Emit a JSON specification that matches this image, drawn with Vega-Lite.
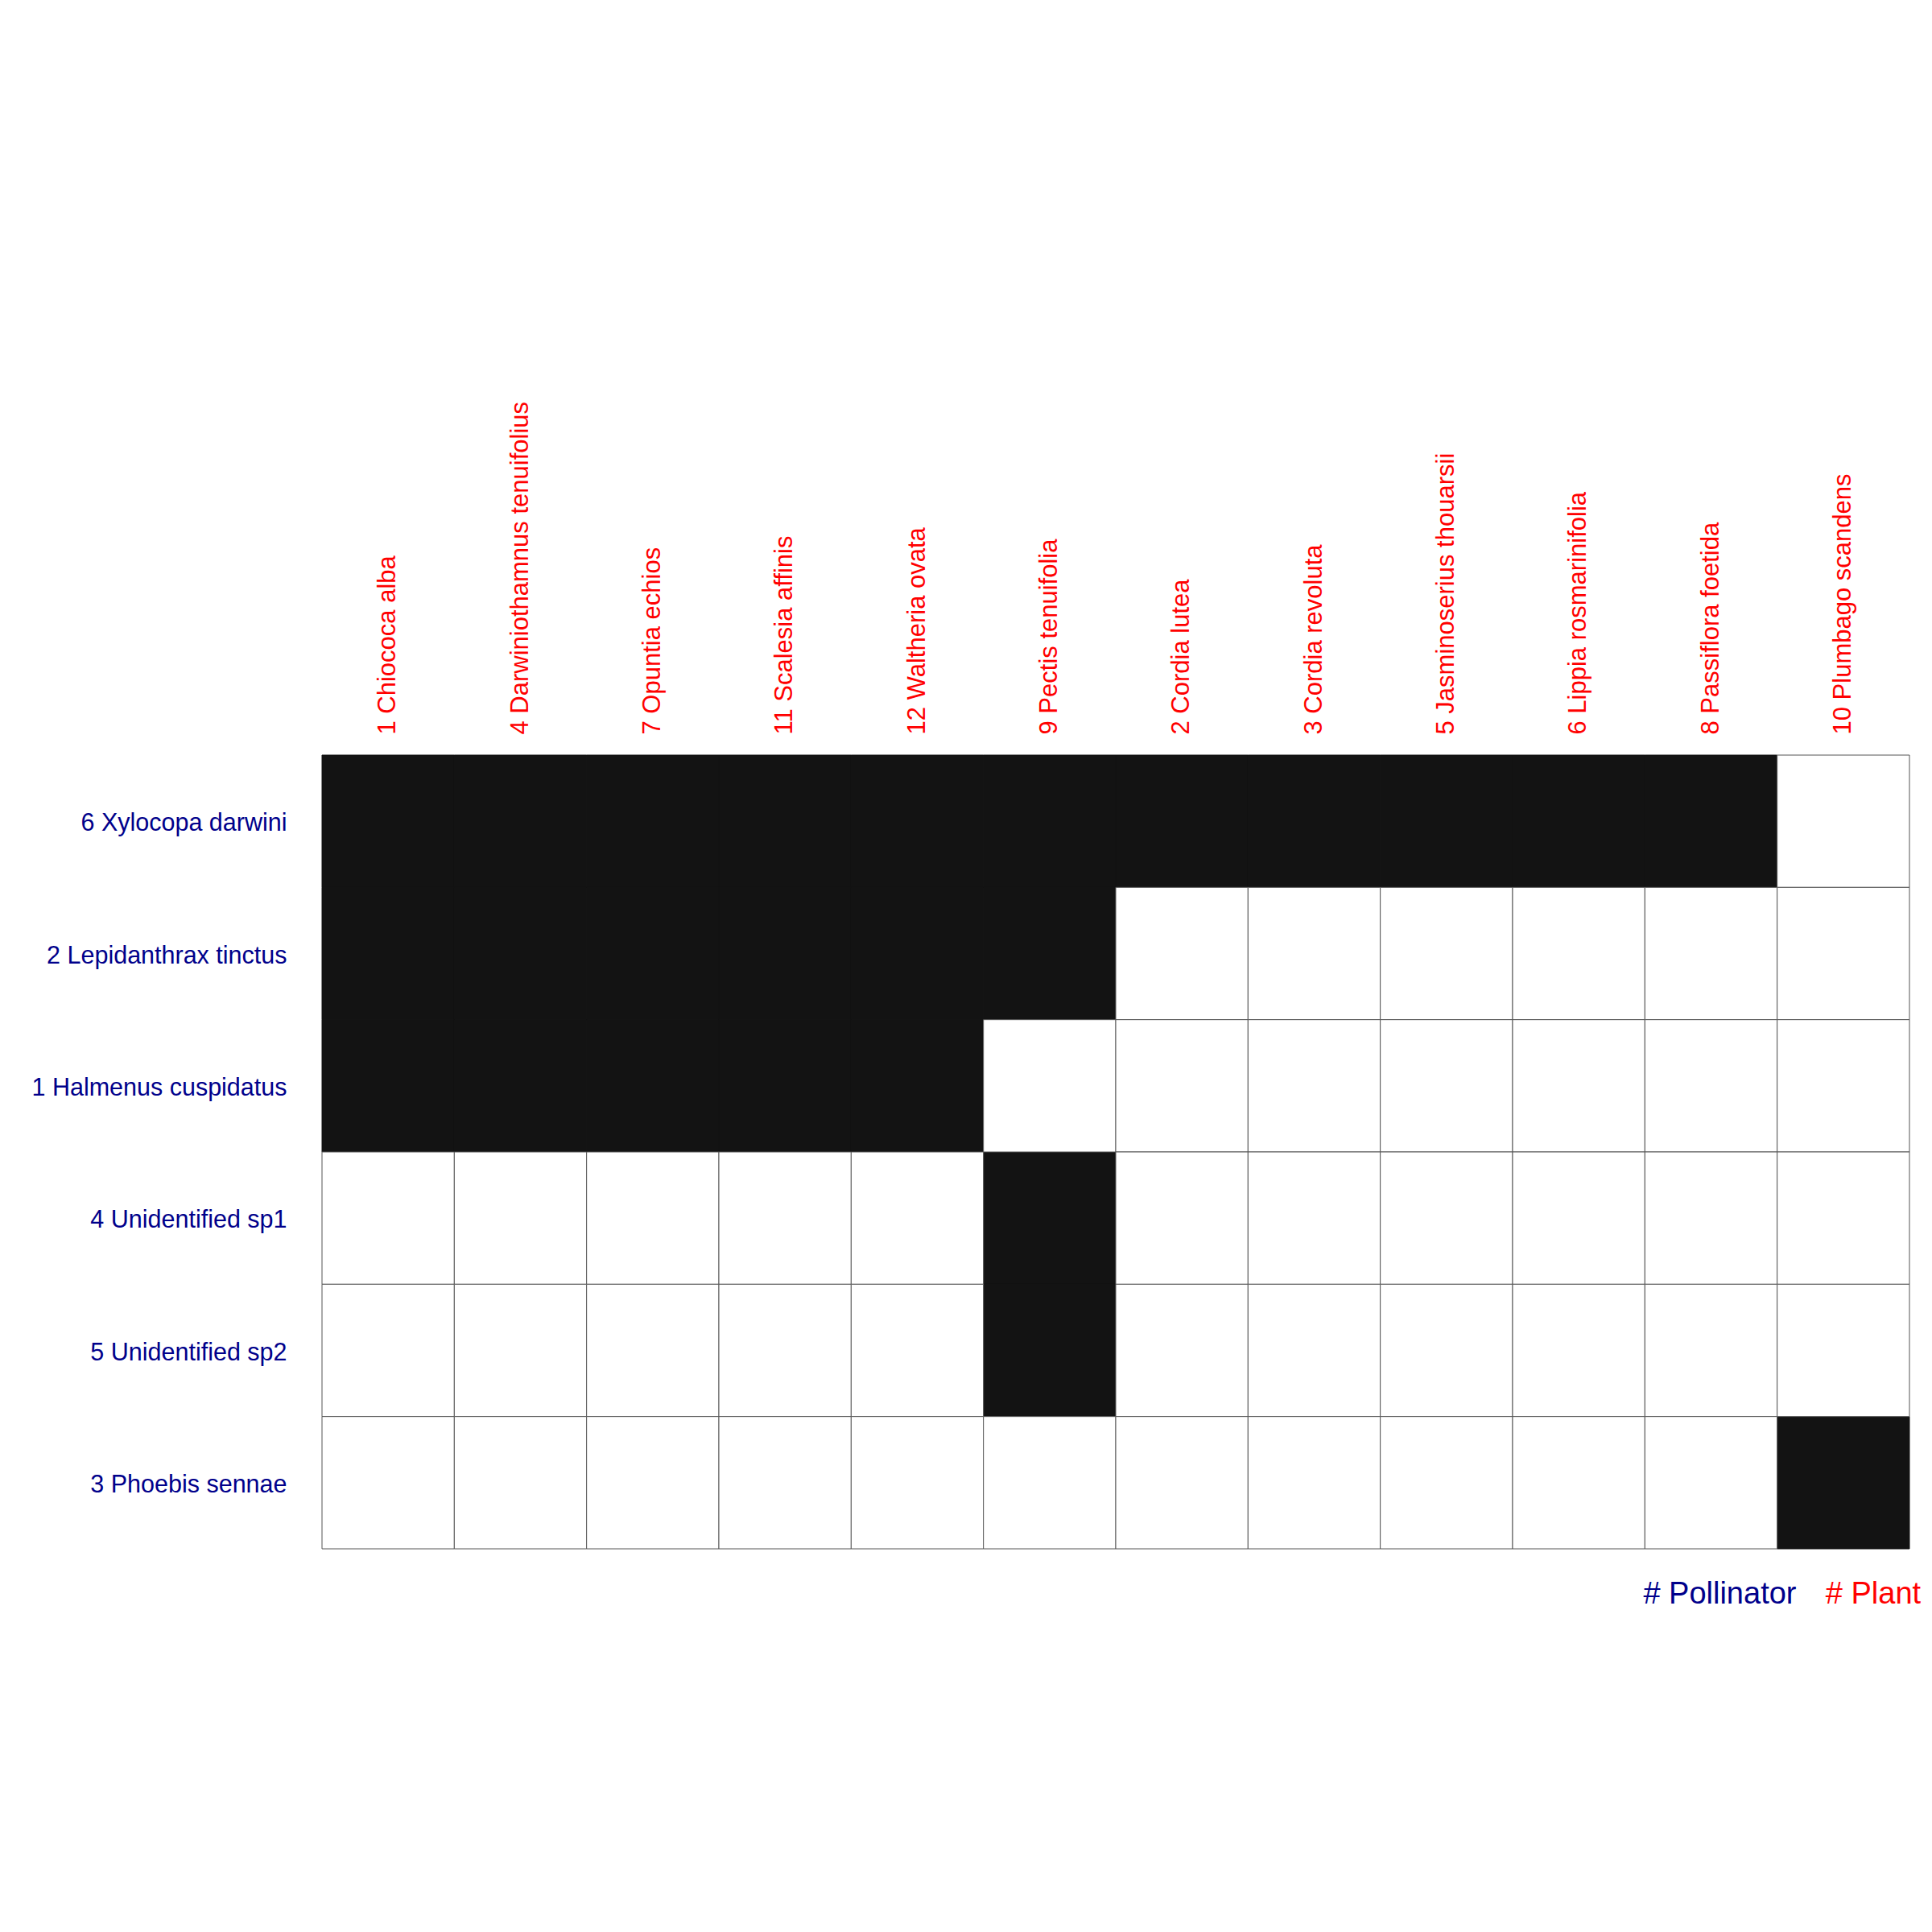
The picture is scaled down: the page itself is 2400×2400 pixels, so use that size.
{
  "$schema": "https://vega.github.io/schema/vega-lite/v6.json",
  "autosize": {"type": "none"},
  "padding": {"left": 400, "top": 938, "right": 28, "bottom": 476},
  "width": 1972,
  "height": 986,
  "background": "white",
  "config": {"view": {"stroke": null}, "font": "Liberation Sans"},
  "datasets": {
    "web": [
      {"pollinator": "6 Xylocopa darwini", "plant": "1 Chiococa alba", "v": 1},
      {"pollinator": "6 Xylocopa darwini", "plant": "4 Darwiniothamnus tenuifolius", "v": 1},
      {"pollinator": "6 Xylocopa darwini", "plant": "7 Opuntia echios", "v": 1},
      {"pollinator": "6 Xylocopa darwini", "plant": "11 Scalesia affinis", "v": 1},
      {"pollinator": "6 Xylocopa darwini", "plant": "12 Waltheria ovata", "v": 1},
      {"pollinator": "6 Xylocopa darwini", "plant": "9 Pectis tenuifolia", "v": 1},
      {"pollinator": "6 Xylocopa darwini", "plant": "2 Cordia lutea", "v": 1},
      {"pollinator": "6 Xylocopa darwini", "plant": "3 Cordia revoluta", "v": 1},
      {"pollinator": "6 Xylocopa darwini", "plant": "5 Jasminoserius thouarsii", "v": 1},
      {"pollinator": "6 Xylocopa darwini", "plant": "6 Lippia rosmarinifolia", "v": 1},
      {"pollinator": "6 Xylocopa darwini", "plant": "8 Passiflora foetida", "v": 1},
      {"pollinator": "6 Xylocopa darwini", "plant": "10 Plumbago scandens", "v": 0},
      {"pollinator": "2 Lepidanthrax tinctus", "plant": "1 Chiococa alba", "v": 1},
      {"pollinator": "2 Lepidanthrax tinctus", "plant": "4 Darwiniothamnus tenuifolius", "v": 1},
      {"pollinator": "2 Lepidanthrax tinctus", "plant": "7 Opuntia echios", "v": 1},
      {"pollinator": "2 Lepidanthrax tinctus", "plant": "11 Scalesia affinis", "v": 1},
      {"pollinator": "2 Lepidanthrax tinctus", "plant": "12 Waltheria ovata", "v": 1},
      {"pollinator": "2 Lepidanthrax tinctus", "plant": "9 Pectis tenuifolia", "v": 1},
      {"pollinator": "2 Lepidanthrax tinctus", "plant": "2 Cordia lutea", "v": 0},
      {"pollinator": "2 Lepidanthrax tinctus", "plant": "3 Cordia revoluta", "v": 0},
      {"pollinator": "2 Lepidanthrax tinctus", "plant": "5 Jasminoserius thouarsii", "v": 0},
      {"pollinator": "2 Lepidanthrax tinctus", "plant": "6 Lippia rosmarinifolia", "v": 0},
      {"pollinator": "2 Lepidanthrax tinctus", "plant": "8 Passiflora foetida", "v": 0},
      {"pollinator": "2 Lepidanthrax tinctus", "plant": "10 Plumbago scandens", "v": 0},
      {"pollinator": "1 Halmenus cuspidatus", "plant": "1 Chiococa alba", "v": 1},
      {"pollinator": "1 Halmenus cuspidatus", "plant": "4 Darwiniothamnus tenuifolius", "v": 1},
      {"pollinator": "1 Halmenus cuspidatus", "plant": "7 Opuntia echios", "v": 1},
      {"pollinator": "1 Halmenus cuspidatus", "plant": "11 Scalesia affinis", "v": 1},
      {"pollinator": "1 Halmenus cuspidatus", "plant": "12 Waltheria ovata", "v": 1},
      {"pollinator": "1 Halmenus cuspidatus", "plant": "9 Pectis tenuifolia", "v": 0},
      {"pollinator": "1 Halmenus cuspidatus", "plant": "2 Cordia lutea", "v": 0},
      {"pollinator": "1 Halmenus cuspidatus", "plant": "3 Cordia revoluta", "v": 0},
      {"pollinator": "1 Halmenus cuspidatus", "plant": "5 Jasminoserius thouarsii", "v": 0},
      {"pollinator": "1 Halmenus cuspidatus", "plant": "6 Lippia rosmarinifolia", "v": 0},
      {"pollinator": "1 Halmenus cuspidatus", "plant": "8 Passiflora foetida", "v": 0},
      {"pollinator": "1 Halmenus cuspidatus", "plant": "10 Plumbago scandens", "v": 0},
      {"pollinator": "4 Unidentified sp1", "plant": "1 Chiococa alba", "v": 0},
      {"pollinator": "4 Unidentified sp1", "plant": "4 Darwiniothamnus tenuifolius", "v": 0},
      {"pollinator": "4 Unidentified sp1", "plant": "7 Opuntia echios", "v": 0},
      {"pollinator": "4 Unidentified sp1", "plant": "11 Scalesia affinis", "v": 0},
      {"pollinator": "4 Unidentified sp1", "plant": "12 Waltheria ovata", "v": 0},
      {"pollinator": "4 Unidentified sp1", "plant": "9 Pectis tenuifolia", "v": 1},
      {"pollinator": "4 Unidentified sp1", "plant": "2 Cordia lutea", "v": 0},
      {"pollinator": "4 Unidentified sp1", "plant": "3 Cordia revoluta", "v": 0},
      {"pollinator": "4 Unidentified sp1", "plant": "5 Jasminoserius thouarsii", "v": 0},
      {"pollinator": "4 Unidentified sp1", "plant": "6 Lippia rosmarinifolia", "v": 0},
      {"pollinator": "4 Unidentified sp1", "plant": "8 Passiflora foetida", "v": 0},
      {"pollinator": "4 Unidentified sp1", "plant": "10 Plumbago scandens", "v": 0},
      {"pollinator": "5 Unidentified sp2", "plant": "1 Chiococa alba", "v": 0},
      {"pollinator": "5 Unidentified sp2", "plant": "4 Darwiniothamnus tenuifolius", "v": 0},
      {"pollinator": "5 Unidentified sp2", "plant": "7 Opuntia echios", "v": 0},
      {"pollinator": "5 Unidentified sp2", "plant": "11 Scalesia affinis", "v": 0},
      {"pollinator": "5 Unidentified sp2", "plant": "12 Waltheria ovata", "v": 0},
      {"pollinator": "5 Unidentified sp2", "plant": "9 Pectis tenuifolia", "v": 1},
      {"pollinator": "5 Unidentified sp2", "plant": "2 Cordia lutea", "v": 0},
      {"pollinator": "5 Unidentified sp2", "plant": "3 Cordia revoluta", "v": 0},
      {"pollinator": "5 Unidentified sp2", "plant": "5 Jasminoserius thouarsii", "v": 0},
      {"pollinator": "5 Unidentified sp2", "plant": "6 Lippia rosmarinifolia", "v": 0},
      {"pollinator": "5 Unidentified sp2", "plant": "8 Passiflora foetida", "v": 0},
      {"pollinator": "5 Unidentified sp2", "plant": "10 Plumbago scandens", "v": 0},
      {"pollinator": "3 Phoebis sennae", "plant": "1 Chiococa alba", "v": 0},
      {"pollinator": "3 Phoebis sennae", "plant": "4 Darwiniothamnus tenuifolius", "v": 0},
      {"pollinator": "3 Phoebis sennae", "plant": "7 Opuntia echios", "v": 0},
      {"pollinator": "3 Phoebis sennae", "plant": "11 Scalesia affinis", "v": 0},
      {"pollinator": "3 Phoebis sennae", "plant": "12 Waltheria ovata", "v": 0},
      {"pollinator": "3 Phoebis sennae", "plant": "9 Pectis tenuifolia", "v": 0},
      {"pollinator": "3 Phoebis sennae", "plant": "2 Cordia lutea", "v": 0},
      {"pollinator": "3 Phoebis sennae", "plant": "3 Cordia revoluta", "v": 0},
      {"pollinator": "3 Phoebis sennae", "plant": "5 Jasminoserius thouarsii", "v": 0},
      {"pollinator": "3 Phoebis sennae", "plant": "6 Lippia rosmarinifolia", "v": 0},
      {"pollinator": "3 Phoebis sennae", "plant": "8 Passiflora foetida", "v": 0},
      {"pollinator": "3 Phoebis sennae", "plant": "10 Plumbago scandens", "v": 1}
    ],
    "keys": [
      {"label": "# Pollinator", "plant": "8 Passiflora foetida", "pollinator": "3 Phoebis sennae"},
      {"label": "# Plant", "plant": "10 Plumbago scandens", "pollinator": "3 Phoebis sennae"}
    ]
  },
  "encoding": {
    "x": {
      "field": "plant", "type": "nominal", "sort": null,
      "scale": {"domain": ["1 Chiococa alba", "4 Darwiniothamnus tenuifolius", "7 Opuntia echios", "11 Scalesia affinis", "12 Waltheria ovata", "9 Pectis tenuifolia", "2 Cordia lutea", "3 Cordia revoluta", "5 Jasminoserius thouarsii", "6 Lippia rosmarinifolia", "8 Passiflora foetida", "10 Plumbago scandens"], "paddingInner": 0, "paddingOuter": 0},
      "axis": {"orient": "top", "title": null, "domain": false, "ticks": false, "labelAngle": -90, "labelPadding": 26, "labelFontSize": 31, "labelColor": "#FF0000", "labelFont": "Liberation Sans", "labelLimit": 0}
    },
    "y": {
      "field": "pollinator", "type": "nominal", "sort": null,
      "scale": {"domain": ["6 Xylocopa darwini", "2 Lepidanthrax tinctus", "1 Halmenus cuspidatus", "4 Unidentified sp1", "5 Unidentified sp2", "3 Phoebis sennae"], "paddingInner": 0, "paddingOuter": 0},
      "axis": {"title": null, "domain": false, "ticks": false, "labelPadding": 44, "labelOffset": 3, "labelFontSize": 30.5, "labelColor": "#00008B", "labelFont": "Liberation Sans", "labelLimit": 0}
    }
  },
  "layer": [
    {
      "data": {"name": "web"},
      "mark": {"type": "rect", "strokeWidth": 1},
      "encoding": {
        "color": {"field": "v", "type": "nominal", "scale": {"domain": [0, 1], "range": ["#FFFFFF", "#131313"]}, "legend": null},
        "stroke": {"field": "v", "type": "nominal", "scale": {"domain": [0, 1], "range": ["#555555", "#131313"]}, "legend": null},
        "order": {"field": "v", "type": "quantitative", "sort": "descending"}
      }
    },
    {
      "data": {"name": "keys"},
      "transform": [{"filter": "datum.label === '# Pollinator'"}],
      "mark": {"type": "text", "align": "right", "baseline": "alphabetic", "dx": 106, "dy": 150, "fontSize": 38, "color": "#00008B", "font": "Liberation Sans"},
      "encoding": {"text": {"field": "label"}}
    },
    {
      "data": {"name": "keys"},
      "transform": [{"filter": "datum.label === '# Plant'"}],
      "mark": {"type": "text", "align": "left", "baseline": "alphabetic", "dx": -22, "dy": 150, "fontSize": 38, "color": "#FF0000", "font": "Liberation Sans"},
      "encoding": {"text": {"field": "label"}}
    }
  ]
}
